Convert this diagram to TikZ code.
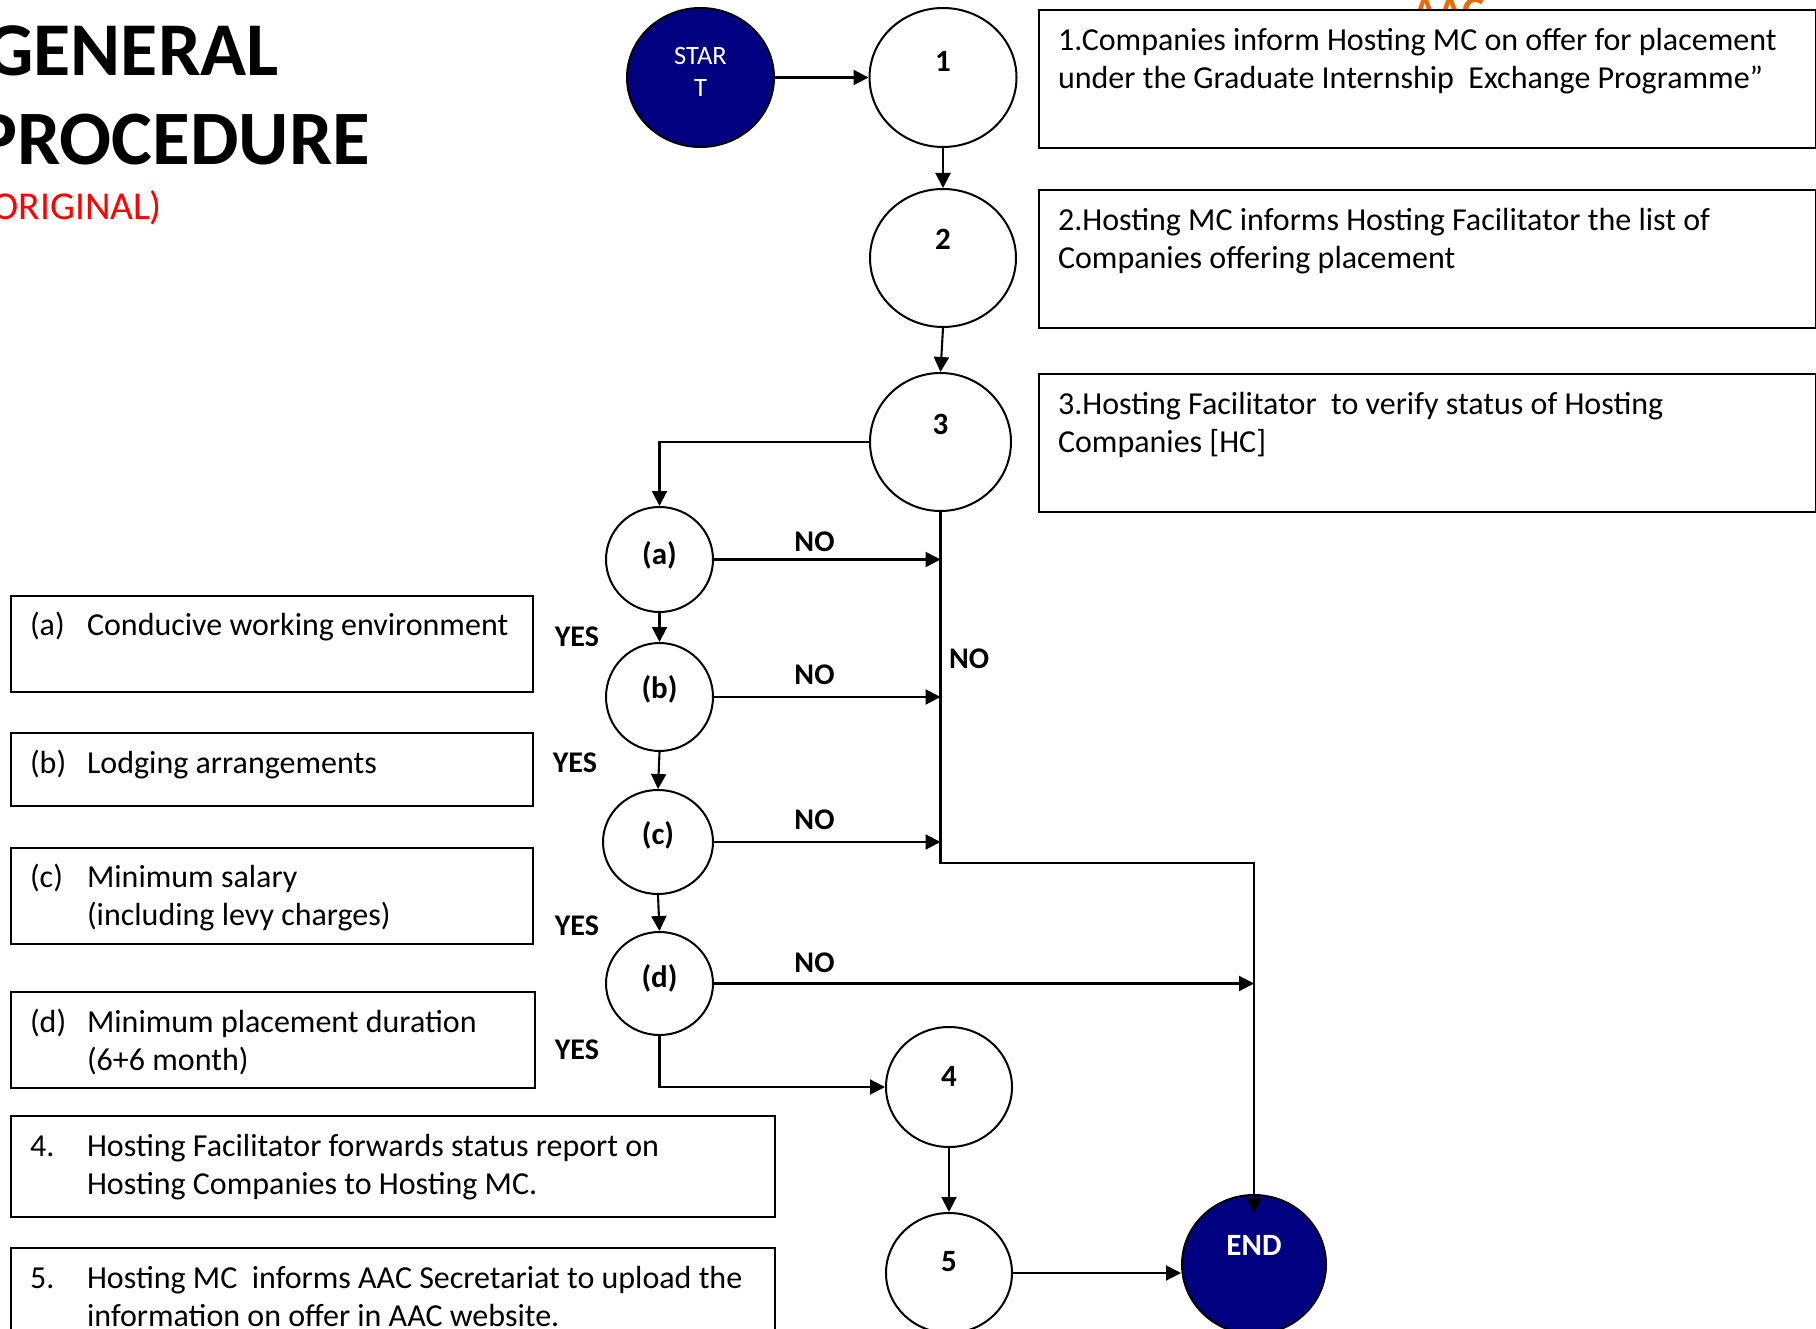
\documentclass[tikz,border=0pt]{standalone}
\usepackage{fontspec}
\setmainfont{Carlito}
\usetikzlibrary{arrows.meta,shapes.geometric}
\definecolor{navyfill}{RGB}{0,0,128}
\definecolor{aacorange}{RGB}{228,108,10}
\definecolor{titlered}{RGB}{255,0,0}
\begin{document}
\begin{tikzpicture}[x=1pt,y=-1pt,
  line width=2.1pt,
  circ/.style={draw=black, ellipse, fill=white, inner sep=0pt, line width=2pt},
  navyc/.style={draw=black, ellipse, fill=navyfill, inner sep=0pt, line width=2pt},
  boxr/.style={draw=black, rectangle, fill=white, inner sep=0pt, anchor=north west, line width=2.2pt},
  txt/.style={font=\fontsize{32}{38}\selectfont, anchor=base west, inner sep=0pt},
  lbl/.style={font=\fontsize{31}{36}\selectfont\bfseries, inner sep=0pt},
  yesno/.style={font=\fontsize{30}{36}\selectfont\bfseries, inner sep=0pt},
  arr/.style={-{Triangle[length=15pt,width=15pt]}, line width=2.1pt}
]
\useasboundingbox (0,0) rectangle (1816,1329);
\clip (0,0) rectangle (1816,1329);

% title
\node[font=\fontsize{76}{90}\selectfont\bfseries, anchor=base east, inner sep=0pt] (tgen) at (280,76) {GENERAL};
\node[font=\fontsize{77}{90}\selectfont\bfseries, anchor=base east, inner sep=0pt] (tproc) at (371,165) {PROCEDURE};
\node[font=\fontsize{39.5}{46}\selectfont, text=titlered, anchor=base east, inner sep=0pt] (torig) at (163,220) {(ORIGINAL)};

% partly hidden orange text
\node[font=\fontsize{42}{50}\selectfont\bfseries, text=aacorange, anchor=base west, inner sep=0pt] (aac) at (1411,26) {AAC};

% right boxes
\node[boxr, minimum width=777, minimum height=138] (b1) at (1038,9) {};
\node[boxr, minimum width=777, minimum height=138] (b2) at (1038,189) {};
\node[boxr, minimum width=777, minimum height=138] (b3) at (1038,373) {};
\node[txt] (b1l1) at (1057,50.5) {1.Companies inform Hosting MC on offer for placement};
\node[txt] (b1l2) at (1057,88.5) {under the Graduate Internship~~Exchange Programme”};
\node[txt] (b2l1) at (1057,230.5) {2.Hosting MC informs Hosting Facilitator the list of};
\node[txt] (b2l2) at (1057,268.5) {Companies offering placement};
\node[txt] (b3l1) at (1057,414.5) {3.Hosting Facilitator~~to verify status of Hosting};
\node[txt] (b3l2) at (1057,452.5) {Companies [HC]};

% left boxes
\node[boxr, minimum width=522, minimum height=96] (ba) at (10,595) {};
\node[boxr, minimum width=522, minimum height=73] (bb) at (10,732) {};
\node[boxr, minimum width=522, minimum height=96] (bc) at (10,847) {};
\node[boxr, minimum width=524, minimum height=96] (bd) at (10,991) {};
\node[boxr, minimum width=764, minimum height=101] (b4) at (10,1115) {};
\node[boxr, minimum width=764, minimum height=120] (b5) at (10,1247) {};

\node[txt] (bal) at (29,635) {(a)};
\node[txt] (bat) at (86,635) {Conducive working environment};
\node[txt] (bbl) at (29,773) {(b)};
\node[txt] (bbt) at (86,773) {Lodging arrangements};
\node[txt] (bcl) at (29,887) {(c)};
\node[txt] (bct1) at (86,887) {Minimum salary};
\node[txt] (bct2) at (86,925) {(including levy charges)};
\node[txt] (bdl) at (29,1032) {(d)};
\node[txt] (bdt1) at (86,1032) {Minimum placement duration};
\node[txt] (bdt2) at (86,1070) {(6+6 month)};
\node[txt] (b4l) at (29,1156) {4.};
\node[txt] (b4t1) at (86,1156) {Hosting Facilitator forwards status report on};
\node[txt] (b4t2) at (86,1194) {Hosting Companies to Hosting MC.};
\node[txt] (b5l) at (29,1288) {5.};
\node[txt] (b5t1) at (86,1288) {Hosting MC~~informs AAC Secretariat to upload the};
\node[txt] (b5t2) at (86,1326) {information on offer in AAC website.};

% circles
\node[navyc, minimum width=147, minimum height=139] (start) at (700.5,77.5) {};
\node[circ, minimum width=147, minimum height=139] (c1) at (943,77.5) {};
\node[circ, minimum width=146, minimum height=138] (c2) at (943,258) {};
\node[circ, minimum width=141, minimum height=138] (c3) at (940.5,442) {};
\node[circ, minimum width=107, minimum height=105] (ca) at (659.5,559.5) {};
\node[circ, minimum width=107, minimum height=108] (cb) at (659.5,697) {};
\node[circ, minimum width=110, minimum height=104] (cc) at (658,842) {};
\node[circ, minimum width=107, minimum height=103] (cd) at (659.5,983.5) {};
\node[circ, minimum width=126, minimum height=120] (c4) at (949,1087) {};
\node[circ, minimum width=126, minimum height=120] (c5) at (949,1273) {};
\node[navyc, minimum width=144, minimum height=139] (end) at (1254,1264.5) {};

% circle labels
\node[font=\fontsize{26.5}{32}\selectfont, text=white, align=center, inner sep=0pt] (startt) at ([yshift=5.5pt]start.center) {STAR\\T};
\node[lbl] (c1t) at ([yshift=16pt]c1.center) {1};
\node[lbl] (c2t) at ([yshift=19pt]c2.center) {2};
\node[lbl] (c3t) at ([yshift=18pt]c3.center) {3};
\node[lbl] (cat) at ([yshift=4.5pt]ca.center) {(a)};
\node[lbl] (cbt) at ([yshift=8pt]cb.center) {(b)};
\node[lbl] (cct) at ([yshift=7pt]cc.center) {(c)};
\node[lbl] (cdt) at ([yshift=5.5pt]cd.center) {(d)};
\node[lbl] (c4t) at ([yshift=11pt]c4.center) {4};
\node[lbl] (c5t) at ([yshift=11.5pt]c5.center) {5};
\node[font=\fontsize{31}{37}\selectfont\bfseries, text=white, inner sep=0pt] (endt) at ([yshift=19.5pt]end.center) {END};

% YES / NO labels
\node[yesno, anchor=base east] (y1) at (600,646) {YES};
\node[yesno, anchor=base east] (y2) at (598,772) {YES};
\node[yesno, anchor=base east] (y3) at (600,935) {YES};
\node[yesno, anchor=base east] (y4) at (600,1059) {YES};
\node[yesno, anchor=base] (n1) at (814.5,551) {NO};
\node[yesno, anchor=base] (n2) at (814.5,684) {NO};
\node[yesno, anchor=base] (n3) at (814.5,829) {NO};
\node[yesno, anchor=base] (n4) at (814.5,972) {NO};
\node[yesno, anchor=base west] (nv) at (948,668) {NO};

% connectors
\coordinate (corner) at (1254,863);
\draw[arr] (start.east) -- (c1.west);
\draw[arr] (c1.south) -- (c2.north);
\draw[arr] (c2.south) -- (c3.north);
\draw[arr] (c3.west) -| (ca.north);
\draw[arr] (ca.south) -- (cb.north);
\draw[arr] (cb.south) -- (cc.north);
\draw[arr] (cc.south) -- (cd.north);
\draw[arr] (ca.east) -- (ca.east -| c3.south);
\draw[arr] (cb.east) -- (cb.east -| c3.south);
\draw[arr] (cc.east) -- (cc.east -| c3.south);
\draw[arr] (c3.south) |- (corner) -- ([yshift=-19pt]end.north);
\draw[arr] (cd.east) -- (cd.east -| corner);
\draw[arr] (cd.south) |- (c4.west);
\draw[arr] (c4.south) -- (c5.north);
\draw[arr] (c5.east) -- (c5.east -| end.west);
\end{tikzpicture}
\end{document}
